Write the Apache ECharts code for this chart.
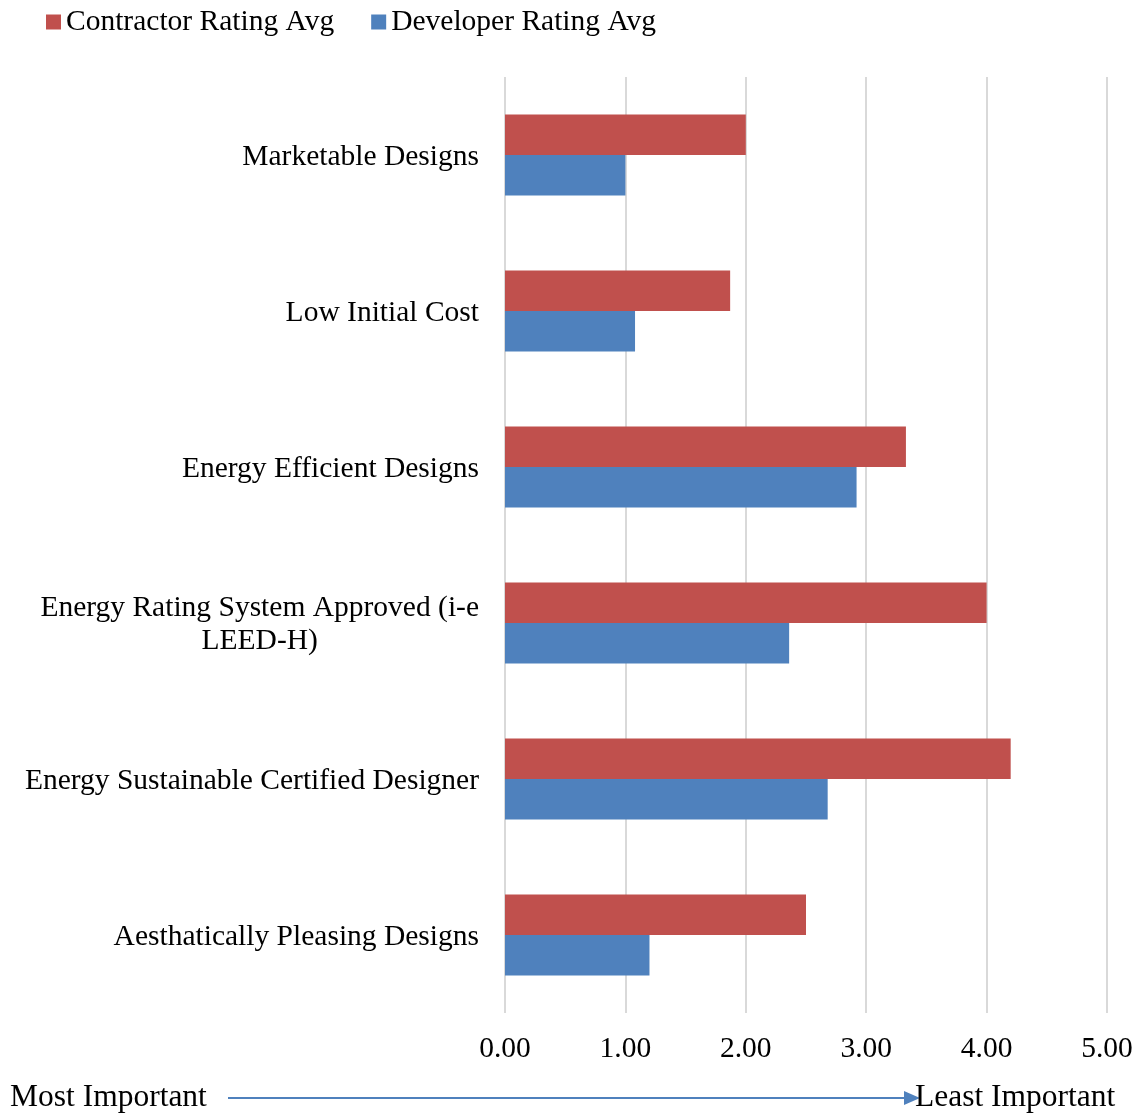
<!DOCTYPE html>
<html>
<head>
<meta charset="utf-8">
<script src="https://cdn.jsdelivr.net/npm/echarts@6/dist/echarts.min.js"></script>
<style>
  html, body { margin: 0; padding: 0; background: #ffffff; }
  #chart { width: 1146px; height: 1119px; }
</style>
</head>
<body>
<div id="chart"></div>
<script>
// Design criteria ranked by contractors and developers (1 = most important)
const categories = [
  'Marketable Designs',
  'Low Initial Cost',
  'Energy Efficient Designs',
  'Energy Rating System Approved (i-e\nLEED-H)',
  'Energy Sustainable Certified Designer',
  'Aesthatically Pleasing Designs'
];
const contractorAvg = [2.00, 1.87, 3.33, 4.00, 4.20, 2.50];
const developerAvg  = [1.00, 1.08, 2.92, 2.36, 2.68, 1.20];
const seriesNames = ['Contractor Rating Avg', 'Developer Rating Avg'];
const footerLabels = ['Most Important', 'Least Important'];

const FONT = '"Liberation Serif", "Times New Roman", serif';
const FS = 29.5;
const FOOT_FS = 31.5;
const RED = '#C0504D';
const BLUE = '#4F81BD';

const chart = echarts.init(document.getElementById('chart'), null, { renderer: 'canvas' });

chart.setOption({
  backgroundColor: '#ffffff',
  animation: false,
  legend: {
    data: seriesNames,
    left: 41,
    top: 2,
    icon: 'rect',
    itemWidth: 15,
    itemHeight: 15,
    itemGap: 37,
    textStyle: { fontFamily: FONT, fontSize: FS, color: '#000' }
  },
  grid: { left: 505, right: 39, top: 77, bottom: 106, containLabel: false },
  xAxis: {
    type: 'value',
    min: 0,
    max: 5,
    interval: 1,
    axisLine: { show: false },
    axisTick: { show: false },
    splitLine: { show: true, lineStyle: { color: '#d9d9d9', width: 2 } },
    axisLabel: {
      margin: 21,
      fontFamily: FONT,
      fontSize: FS,
      color: '#000',
      formatter: v => v.toFixed(2)
    }
  },
  yAxis: {
    type: 'category',
    data: categories,
    inverse: true,
    axisLine: { show: false },
    axisTick: { show: false },
    splitLine: { show: false },
    axisLabel: {
      margin: 26,
      fontFamily: FONT,
      fontSize: FS,
      color: '#000',
      lineHeight: 33,
      padding: [4, 0, 0, 0],
      formatter: v => v.indexOf('\n') >= 0
        ? v.split('\n').map(s => '{c|' + s + '}').join('\n')
        : v,
      rich: {
        c: { align: 'center', fontFamily: FONT, fontSize: FS, color: '#000', lineHeight: 33 }
      }
    }
  },
  series: [
    {
      name: seriesNames[0],
      type: 'bar',
      data: contractorAvg,
      itemStyle: { color: RED },
      barGap: '0%',
      barCategoryGap: '48%'
    },
    {
      name: seriesNames[1],
      type: 'bar',
      data: developerAvg,
      itemStyle: { color: BLUE },
      barGap: '0%',
      barCategoryGap: '48%'
    }
  ],
  graphic: [
    {
      type: 'text',
      left: 10,
      top: 1082,
      style: { text: footerLabels[0], font: FOOT_FS + 'px ' + FONT, fill: '#000' }
    },
    {
      type: 'line',
      shape: { x1: 228, y1: 1098, x2: 906, y2: 1098 },
      style: { stroke: BLUE, lineWidth: 2 }
    },
    {
      type: 'polygon',
      shape: { points: [[904, 1091], [920, 1098], [904, 1105]] },
      style: { fill: BLUE }
    },
    {
      type: 'text',
      left: 915,
      top: 1082,
      style: { text: footerLabels[1], font: FOOT_FS + 'px ' + FONT, fill: '#000' }
    }
  ]
});
</script>
</body>
</html>
